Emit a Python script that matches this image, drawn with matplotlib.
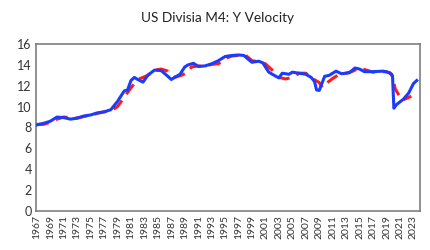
import matplotlib
matplotlib.use("Agg")
import matplotlib.pyplot as plt

# blue solid series (year, value)
blue_years = [1967, 1968, 1969, 1970, 1971, 1972, 1973, 1974, 1975, 1976, 1977, 1978,
              1979, 1980, 1980.5, 1981, 1981.5, 1982, 1982.8, 1983.5, 1984.5, 1985.5,
              1986.5, 1987, 1987.5, 1988.3, 1989, 1989.5, 1990.3, 1991, 1992, 1993,
              1994, 1995, 1996, 1997, 1997.8, 1998.5, 1999, 2000, 2000.6, 2001.5,
              2002.3, 2003, 2003.5, 2004.5, 2005, 2006, 2007, 2007.8, 2008.3, 2008.6,
              2009, 2009.8, 2010.5, 2011.5, 2012.3, 2013.5, 2014.3, 2015, 2015.7,
              2017, 2018.5, 2019.5, 2019.9, 2020.1, 2020.5, 2021.5, 2022.3, 2023, 2023.5]
blue_vals = [8.25, 8.4, 8.6, 9.0, 8.95, 8.8, 8.9, 9.1, 9.2, 9.4, 9.5, 9.7,
             10.5, 11.5, 11.6, 12.5, 12.8, 12.6, 12.35, 13.0, 13.5, 13.45,
             12.9, 12.6, 12.8, 13.1, 13.8, 14.0, 14.15, 13.85, 13.9, 14.1,
             14.4, 14.8, 14.9, 14.95, 14.9, 14.5, 14.25, 14.35, 14.2, 13.3,
             13.0, 12.75, 13.2, 13.1, 13.3, 13.2, 13.1, 12.8, 12.4, 11.6,
             11.55, 12.9, 13.0, 13.4, 13.15, 13.25, 13.7, 13.6, 13.35,
             13.35, 13.4, 13.25, 12.9, 9.85, 10.2, 10.7, 11.3, 12.2, 12.5]

# red dashed series (year, value)
red_years = [1967, 1968, 1969, 1970, 1971, 1972, 1973, 1974, 1975, 1976, 1977, 1978,
             1979, 1980, 1981, 1982, 1982.8, 1983.5, 1984.5, 1985.5, 1986.5, 1987.5,
             1988.5, 1989.5, 1990, 1991, 1992, 1993, 1994, 1995, 1996, 1997, 1998,
             1999, 2000, 2001, 2002, 2003, 2004, 2005, 2006, 2007, 2008, 2009,
             2009.5, 2010, 2011, 2012, 2013, 2014, 2015, 2016, 2017, 2018, 2019,
             2019.8, 2020.3, 2021.3, 2022, 2022.7]
red_vals = [8.3, 8.3, 8.5, 8.8, 9.0, 8.95, 8.9, 9.05, 9.2, 9.35, 9.5, 9.6,
            10.0, 10.9, 11.8, 12.6, 12.8, 13.0, 13.5, 13.6, 13.4, 12.8,
            13.0, 13.3, 13.8, 13.9, 13.85, 14.05, 14.1, 14.6, 14.85, 14.9, 14.95,
            14.4, 14.3, 14.1, 13.5, 12.8, 12.65, 12.8, 13.2, 13.2, 12.7, 12.3,
            11.8, 12.2, 12.7, 13.1, 13.2, 13.4, 13.7, 13.5, 13.3, 13.35, 13.35,
            13.1, 11.7, 10.6, 10.8, 11.0]

tick_years = list(range(1967, 2024, 2))
y_ticks = list(range(0, 17, 2))

plt.rcParams['font.family'] = ['Lato', 'DejaVu Sans']

fig = plt.figure(figsize=(4.3, 2.5), dpi=100)
ax = fig.add_axes([0.084, 0.156, 0.893, 0.668])

ax.plot(red_years, red_vals, color='#ff1a1a', lw=2.2, dashes=(4, 2.5), zorder=2)
ax.plot(blue_years, blue_vals, color='#1a3cff', lw=2.2, zorder=3)

ax.set_xlim(1966.9, 2024)
ax.set_ylim(0, 16)
ax.set_xticks(tick_years)
ax.set_xticklabels([str(y) for y in tick_years], rotation=90, fontsize=7.5, color='#333333')
ax.set_yticks(y_ticks)
ax.set_yticklabels([str(v) for v in y_ticks], fontsize=9, color='#333333')
ax.tick_params(length=0, pad=3)
for s in ax.spines.values():
    s.set_color('#7f7f7f')
    s.set_linewidth(1.2)

fig.text(0.505, 0.928, 'US Divisia M4: Y Velocity', ha='center', va='center',
         fontsize=9.8, color='#222222')

fig.savefig('out.png', dpi=100)
